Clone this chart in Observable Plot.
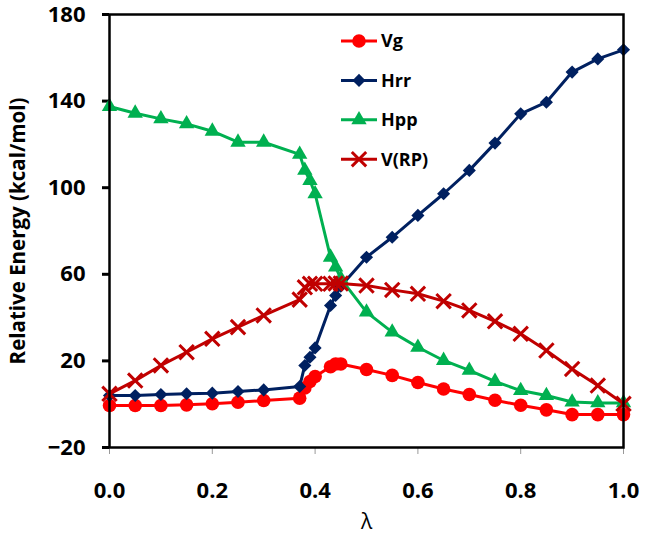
<!DOCTYPE html>
<html><head><meta charset="utf-8">
<script src="https://cdn.jsdelivr.net/npm/d3@7"></script>
<script src="https://cdn.jsdelivr.net/npm/@observablehq/plot@0.6"></script>
<style>
body{margin:0;background:#fff;}
#wrap{position:relative;width:645px;height:535px;}
#legend{position:absolute;left:335px;top:24px;}
</style></head><body>
<div id="wrap"></div>
<script>
const lambda = [0,0.05,0.1,0.15,0.2,0.25,0.3,0.37,0.38,0.39,0.40,0.43,0.44,0.45,0.5,0.55,0.6,0.65,0.7,0.75,0.8,0.85,0.9,0.95,1.0];
const vg  = [-0.6,-0.6,-0.6,-0.3,0.2,0.9,1.7,2.8,7.5,10.5,12.8,17.3,18.6,18.6,16.0,13.3,10.0,7.0,4.5,1.8,-0.5,-2.6,-4.8,-4.8,-4.8];
const hrr = [4.0,4.0,4.5,4.8,5.1,5.9,6.6,8.2,17.9,21.7,26.0,45.6,50.2,54.5,67.9,77.1,87.2,97.2,108.0,120.6,134.1,139.5,153.4,159.5,163.7];
const hpp = [137.5,134.4,131.8,129.5,126.1,121.0,121.0,115.4,108.0,103.3,97.2,67.9,63.3,58.0,42.5,33.3,26.3,20.2,15.6,10.5,6.3,4.0,1.0,0.6,0.6];
const vrp = [4.8,10.9,17.9,24.0,30.2,35.6,41.0,48.3,54.0,55.6,55.6,55.6,55.8,55.8,54.8,52.8,51.0,47.6,43.3,38.3,32.5,24.8,16.3,8.6,0.2];

const seriesNames   = ["Vg","Hrr","Hpp","V(RP)"];
const seriesValues  = [vg, hrr, hpp, vrp];
const seriesColors  = ["#ff0000","#002060","#00b050","#c00000"];
const seriesSymbols = ["circle","diamond2","triangle","times"];
const seriesRadius  = [6.8, 5.9, 5.7, 6.6];

const xTicks = [0,0.2,0.4,0.6,0.8,1.0];
const yTicks = [-20,20,60,100,140,180];
const xTitle = "λ";
const yTitle = "Relative Energy (kcal/mol)";

const FONT = "'Open Sans', 'Liberation Sans', sans-serif";

const seriesMarks = seriesNames.flatMap((name, i) => {
  const rows = lambda.map((l, j) => ({lambda: l, value: seriesValues[i][j]}));
  const isStroke = seriesSymbols[i] === "times";
  return [
    Plot.line(rows, {x: "lambda", y: "value", stroke: seriesColors[i], strokeWidth: 3}),
    Plot.dot(rows, {x: "lambda", y: "value", symbol: seriesSymbols[i], r: seriesRadius[i],
      fill: isStroke ? "none" : seriesColors[i],
      stroke: isStroke ? seriesColors[i] : "none",
      strokeWidth: isStroke ? 3 : 0})
  ];
});

const chart = Plot.plot({
  width: 645, height: 535,
  marginLeft: 109, marginRight: 22, marginTop: 14, marginBottom: 88,
  style: {fontFamily: FONT, background: "white", color: "black", overflow: "visible"},
  x: {domain: [0, 1]},
  y: {domain: [-20, 180]},
  marks: [
    Plot.axisX({ticks: xTicks, tickFormat: d => d.toFixed(1), tickSize: 7, tickPadding: 28,
      stroke: "#999", strokeWidth: 1, fill: "black", fontSize: 22, fontWeight: "bold", label: null}),
    Plot.axisY({ticks: yTicks, tickSize: 7, tickPadding: 17, stroke: "black", strokeWidth: 3,
      fill: "black", fontSize: 22, fontWeight: "bold", label: null}),
    Plot.text([yTitle], {frameAnchor: "left", textAnchor: "middle", dx: -91, rotate: -90, fontSize: 20.5, fontWeight: "bold", fill: "black"}),
    Plot.text([xTitle], {frameAnchor: "bottom", dy: 81, fontSize: 21, fill: "black"}),
    ...seriesMarks,
    Plot.frame({stroke: "black", strokeWidth: 2.5})
  ]
});
const wrap = document.getElementById("wrap");
wrap.appendChild(chart);

// legend (inside plot area, top centre)
const lg = d3.create("svg").attr("id", "legend").attr("width", 120).attr("height", 150)
  .style("font-family", FONT);
const symMap = {circle: d3.symbolCircle, diamond2: d3.symbolDiamond2, triangle: d3.symbolTriangle, times: d3.symbolTimes};
seriesNames.forEach((name, i) => {
  const g = lg.append("g").attr("transform", `translate(0,${17 + i * 39.4})`);
  g.append("line").attr("x1", 6).attr("x2", 42).attr("y1", 0).attr("y2", 0)
    .attr("stroke", seriesColors[i]).attr("stroke-width", 3);
  const r = seriesRadius[i];
  const isStroke = seriesSymbols[i] === "times";
  g.append("path").attr("transform", "translate(24,0)")
    .attr("d", d3.symbol(symMap[seriesSymbols[i]], Math.PI * r * r)())
    .attr("fill", isStroke ? "none" : seriesColors[i])
    .attr("stroke", isStroke ? seriesColors[i] : "none")
    .attr("stroke-width", isStroke ? 3 : 0);
  g.append("text").attr("x", 46).attr("y", 0).attr("dy", "0.35em")
    .attr("font-size", 18).attr("font-weight", "bold").attr("fill", "black").text(name);
});
wrap.appendChild(lg.node());
</script>
</body></html>
